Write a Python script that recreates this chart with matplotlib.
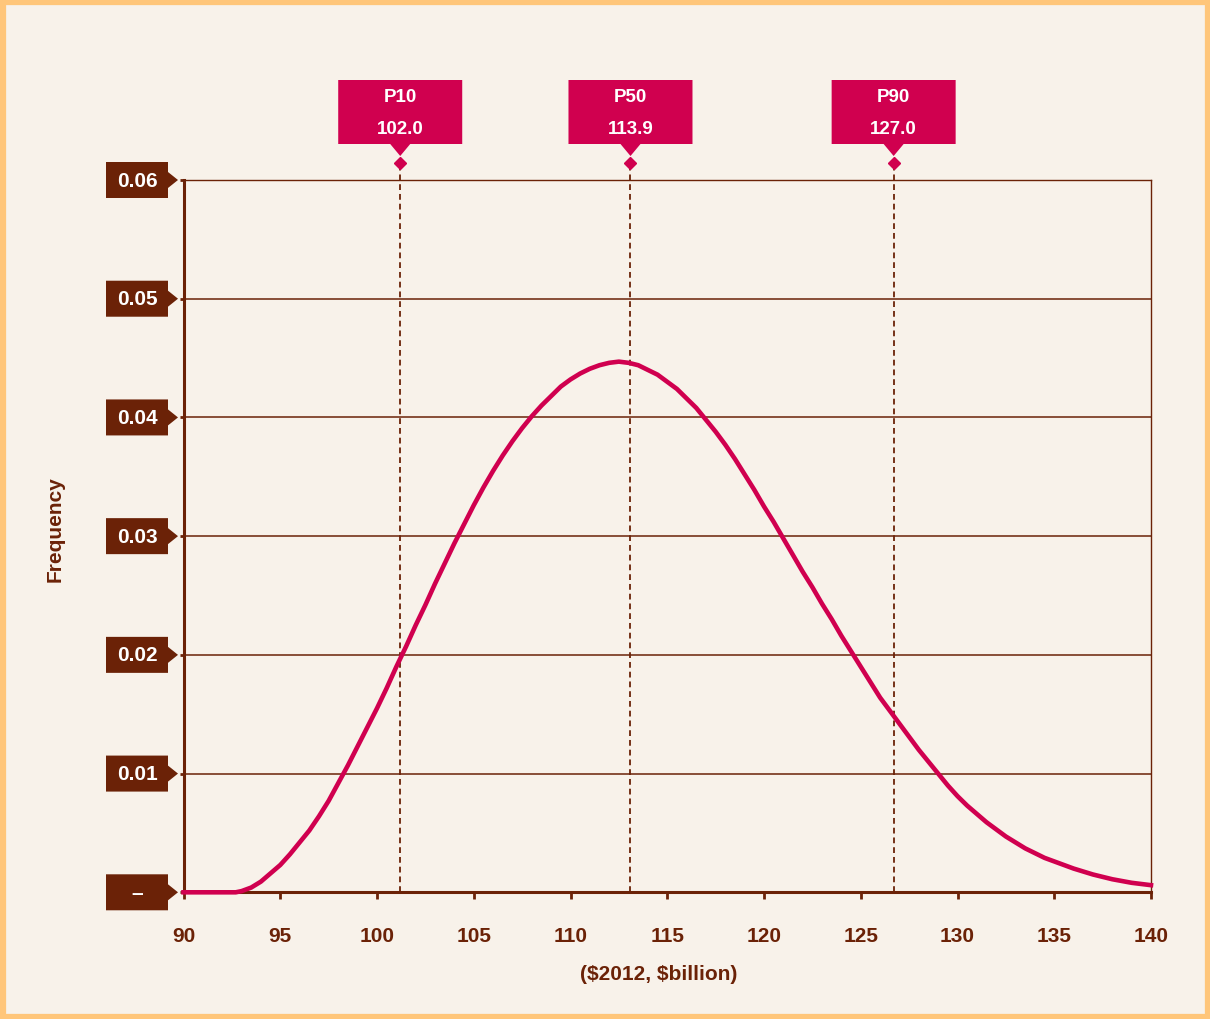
import matplotlib.pyplot as plt
import matplotlib.patches as mpatches

# curve values
x_vals = [90, 91, 92, 92.7, 93, 93.5, 94, 94.5, 95, 95.5, 96, 96.5, 97, 97.5, 98, 98.5,
          99, 99.5, 100, 100.5, 101, 101.5, 102, 102.5, 103, 103.5, 104, 104.5, 105,
          105.5, 106, 106.5, 107, 107.5, 108, 108.5, 109, 109.5, 110, 110.5, 111, 111.5,
          112, 112.5, 113, 113.5, 114, 114.5, 115, 115.5, 116, 116.5, 117, 117.5, 118,
          118.5, 119, 119.5, 120, 120.5, 121, 121.5, 122, 122.5, 123, 123.5, 124, 124.5,
          125, 125.5, 126, 126.5, 127, 127.5, 128, 128.5, 129, 129.5, 130, 130.5, 131,
          131.5, 132, 132.5, 133, 133.5, 134, 134.5, 135, 136, 137, 138, 139, 140]
freq = [0, 0, 0, 0, 0.0001, 0.0004, 0.0009, 0.0016, 0.0023, 0.0032, 0.0042, 0.0052,
        0.0064, 0.0077, 0.0092, 0.0107, 0.0123, 0.0139, 0.0155, 0.0172, 0.0190, 0.0207,
        0.0225, 0.0242, 0.0260, 0.0277, 0.0294, 0.0310, 0.0326, 0.0341, 0.0355, 0.0368,
        0.0380, 0.0391, 0.0401, 0.0410, 0.0418, 0.0426, 0.0432, 0.0437, 0.0441, 0.0444,
        0.0446, 0.0447, 0.0446, 0.0444, 0.0440, 0.0436, 0.0430, 0.0424, 0.0416, 0.0408,
        0.0398, 0.0388, 0.0377, 0.0365, 0.0352, 0.0339, 0.0325, 0.0312, 0.0298, 0.0284,
        0.0270, 0.0257, 0.0243, 0.0230, 0.0216, 0.0203, 0.0190, 0.0177, 0.0164, 0.0153,
        0.0142, 0.0131, 0.0120, 0.0110, 0.0100, 0.0090, 0.0081, 0.0073, 0.0066, 0.0059,
        0.0053, 0.0047, 0.0042, 0.0037, 0.0033, 0.0029, 0.0026, 0.0020, 0.0015, 0.0011,
        0.0008, 0.0006]

p_names = ['P10', 'P50', 'P90']
p_labels = ['102.0', '113.9', '127.0']
p_pos = [101.2, 113.1, 126.7]

y_ticks = [0, 0.01, 0.02, 0.03, 0.04, 0.05, 0.06]
y_ticklabels = ['–', '0.01', '0.02', '0.03', '0.04', '0.05', '0.06']
x_ticks = [90, 95, 100, 105, 110, 115, 120, 125, 130, 135, 140]

brown = '#6B2207'
crimson = '#D0004F'
bg = '#F8F2EA'
plt.rcParams['font.family'] = ['Liberation Sans', 'DejaVu Sans']

W, H = 1210, 1020
fig = plt.figure(figsize=(12.1, 10.2), dpi=100)
fig.patch.set_facecolor(bg)
fig.patches.append(mpatches.Rectangle((2.5 / W, 2.5 / H), 1 - 5 / W, 1 - 5 / H,
                                      transform=fig.transFigure, fill=False,
                                      edgecolor='#FFC67A', linewidth=4.5))

ax = fig.add_axes([183.5 / W, 1 - 893.3 / H, (1151 - 183.5) / W, (893.3 - 181) / H])
ax.set_facecolor(bg)
ax.set_xlim(90, 140)
ax.set_ylim(0, 0.06)

for v in y_ticks[1:]:
    ax.axhline(v, color=brown, lw=1.1, zorder=1)
for s in ['top', 'right']:
    ax.spines[s].set_color(brown)
    ax.spines[s].set_linewidth(1.0)
for s in ['left', 'bottom']:
    ax.spines[s].set_color(brown)
    ax.spines[s].set_linewidth(2.2)

ax.plot(x_vals, freq, color=crimson, lw=3.3, zorder=4, solid_joinstyle='round',
        clip_on=False)

ax.set_xticks(x_ticks)
ax.set_xticklabels([str(t) for t in x_ticks], fontsize=15, fontweight='bold', color=brown)
ax.tick_params(axis='x', direction='out', length=5, width=2, color=brown, pad=19)
ax.set_yticks(y_ticks)
ax.set_yticklabels([])
ax.tick_params(axis='y', direction='out', length=3, width=2, color=brown)

fig.canvas.draw()
to_disp = ax.transData.transform

# y tick label boxes with pointers
for v, lab in zip(y_ticks, y_ticklabels):
    yc = to_disp((90, v))[1]
    pts = [(106, yc - 18), (168, yc - 18), (168, yc - 8), (178, yc), (168, yc + 8),
           (168, yc + 18), (106, yc + 18)]
    fig.patches.append(mpatches.Polygon(pts, closed=True, transform=None,
                                        facecolor=brown, edgecolor='none'))
    fig.text(137 / W, yc / H, lab, ha='center', va='center', color='white',
             fontsize=15, fontweight='bold')

# percentile markers
top_py = H - 164
for name, lab, p in zip(p_names, p_labels, p_pos):
    xc = to_disp((p, 0))[0]
    y_top = ax.transData.inverted().transform((xc, top_py))[1]
    ax.plot([p, p], [0, y_top], color=brown, lw=1.3, dashes=(3.2, 2.2), zorder=3,
            clip_on=False)
    box = [(xc - 62, H - 81), (xc + 62, H - 81), (xc + 62, H - 145), (xc + 10, H - 145),
           (xc, H - 157), (xc - 10, H - 145), (xc - 62, H - 145)]
    fig.patches.append(mpatches.Polygon(box, closed=True, transform=None,
                                        facecolor=crimson, edgecolor='none'))
    ax.plot([p], [y_top], marker='D', markersize=6, color=crimson, clip_on=False, zorder=5)
    fig.text(xc / W, 1 - 98 / H, name, ha='center', va='center', color='white',
             fontsize=13.5, fontweight='bold')
    fig.text(xc / W, 1 - 130 / H, lab, ha='center', va='center', color='white',
             fontsize=13.5, fontweight='bold')

fig.text(659 / W, 1 - 975 / H, '(\\$2012, \\$billion)', ha='center', va='center',
         color=brown, fontsize=15, fontweight='bold')
fig.text(55 / W, 1 - 529 / H, 'Frequency', ha='center', va='center', rotation=90,
         color=brown, fontsize=15, fontweight='bold')

fig.savefig('out.png', dpi=100, facecolor=bg)
